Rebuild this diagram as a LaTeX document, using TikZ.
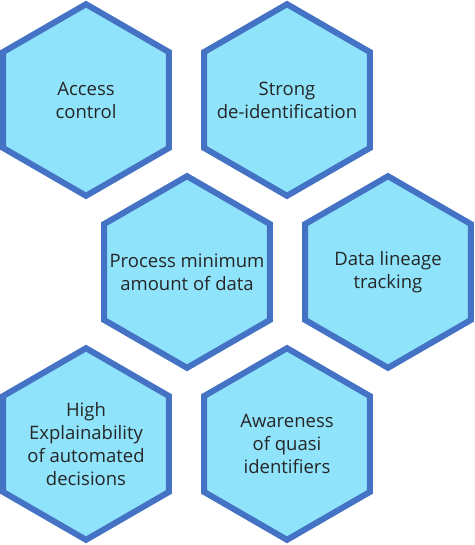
\documentclass[tikz,border=0pt]{standalone}
\usepackage{fontspec}
\setmainfont{Open Sans}
\usetikzlibrary{shapes.geometric}
\definecolor{hexfill}{HTML}{8FE3FB}
\definecolor{hexline}{HTML}{4472C4}
\tikzset{
  hexbox/.style={regular polygon, regular polygon sides=6, shape border rotate=30,
    minimum size=191.6pt, inner sep=0pt, draw=hexline, fill=hexfill, line width=6pt},
  hextext/.style={align=center, text=black!85, inner sep=0pt,
    font=\fontsize{18.5}{23}\selectfont}
}
\begin{document}
\begin{tikzpicture}[x=1pt,y=-1pt]
\useasboundingbox (0,0) rectangle (474,545);
\node[hexbox, label={[hextext]center:Access\\control}] (access) at (86,100) {};
\node[hexbox, label={[hextext]center:Strong\\de-identification}] (strong) at (287,100) {};
\node[hexbox, label={[hextext]center:Process minimum\\amount of data}] (process) at (187,272) {};
\node[hexbox, label={[hextext]center:Data lineage\\tracking}] (lineage) at (388,272) {};
\node[hexbox, label={[hextext]center:High\\Explainability\\of automated\\decisions}] (explain) at (86,444) {};
\node[hexbox, label={[hextext]center:Awareness\\of quasi\\identifiers}] (quasi) at (287,444) {};
\end{tikzpicture}
\end{document}
